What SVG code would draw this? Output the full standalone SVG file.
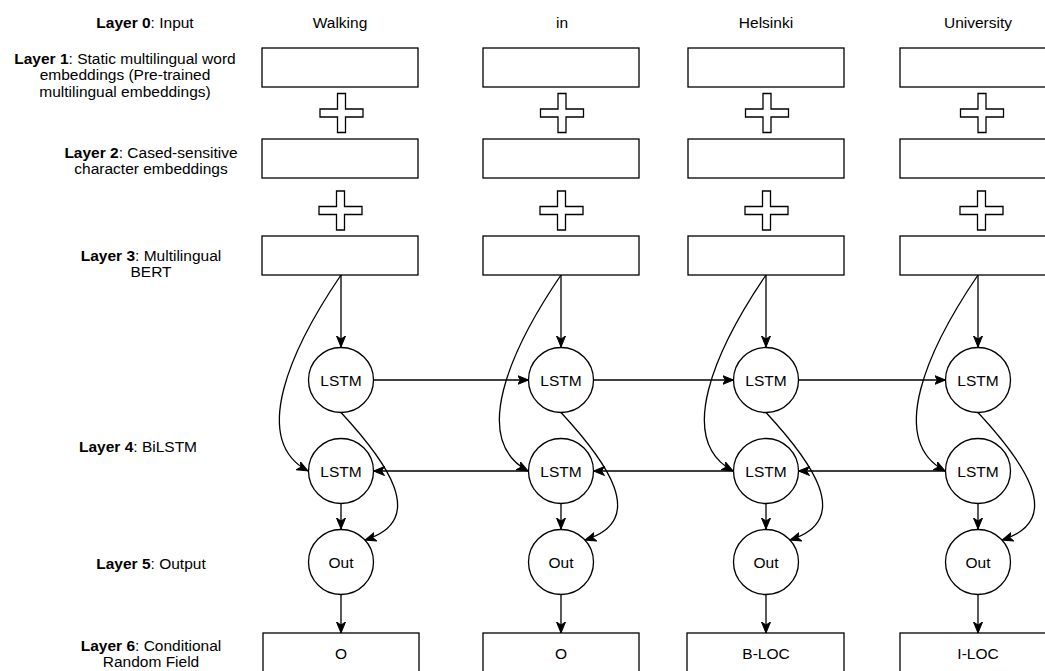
<svg xmlns="http://www.w3.org/2000/svg" width="1045" height="671" viewBox="0 0 1045 671">
<style>
text{font-family:"Liberation Sans",Arial,sans-serif;font-size:15.5px;fill:#000;}
.c{text-anchor:middle;}
.b{font-weight:bold;}
.box{fill:#fff;stroke:#000;stroke-width:1.3;}
.node{fill:#fff;stroke:#000;stroke-width:1.3;}
.edge{fill:none;stroke:#000;stroke-width:1.3;marker-end:url(#arr);}
</style>
<defs>
<marker id="arr" markerUnits="userSpaceOnUse" markerWidth="12" markerHeight="10" viewBox="0 0 12 10" refX="11" refY="5" orient="auto">
<path d="M0,0.5 L11,5 L0,9.5 L3,5 Z" fill="#000" stroke="#000" stroke-width="1"/>
</marker>
<path id="plus" d="M-4,-19.5 H4 V-4 H21.5 V4 H4 V19.5 H-4 V4 H-21.5 V-4 H-4 Z" fill="#fff" stroke="#000" stroke-width="1.3"/>
</defs>
<rect width="1045" height="671" fill="#fff"/>

<g id="layer-labels">
<text class="c" x="145" y="27.5"><tspan class="b">Layer 0</tspan>: Input</text>
<text class="c" x="125" y="63.5"><tspan class="b">Layer 1</tspan>: Static multilingual word</text>
<text class="c" x="125" y="80.2">embeddings (Pre-trained</text>
<text class="c" x="125" y="96.9">multilingual embeddings)</text>
<text class="c" x="151" y="157.5"><tspan class="b">Layer 2</tspan>: Cased-sensitive</text>
<text class="c" x="151" y="174.2">character embeddings</text>
<text class="c" x="151" y="260.5"><tspan class="b">Layer 3</tspan>: Multilingual</text>
<text class="c" x="151" y="277.2">BERT</text>
<text class="c" x="138" y="451.5"><tspan class="b">Layer 4</tspan>: BiLSTM</text>
<text class="c" x="151" y="568.5"><tspan class="b">Layer 5</tspan>: Output</text>
<text class="c" x="151" y="650.5"><tspan class="b">Layer 6</tspan>: Conditional</text>
<text class="c" x="151" y="667.2">Random Field</text>
</g>

<g id="connectors">
<path class="edge" d="M341,275 L341,347"/>
<path class="edge" d="M341,275 C290,350 250,440 308,471"/>
<path class="edge" d="M341,412.5 C385,460 430,520 365,540"/>
<path class="edge" d="M341,503.5 L341,529"/>
<path class="edge" d="M341,594.5 L341,633"/>
<path class="edge" d="M561,275 L561,347"/>
<path class="edge" d="M561,275 C510,350 470,440 528,471"/>
<path class="edge" d="M561,412.5 C605,460 650,520 585,540"/>
<path class="edge" d="M561,503.5 L561,529"/>
<path class="edge" d="M561,594.5 L561,633"/>
<path class="edge" d="M766,275 L766,347"/>
<path class="edge" d="M766,275 C715,350 675,440 733,471"/>
<path class="edge" d="M766,412.5 C810,460 855,520 790,540"/>
<path class="edge" d="M766,503.5 L766,529"/>
<path class="edge" d="M766,594.5 L766,633"/>
<path class="edge" d="M978,275 L978,347"/>
<path class="edge" d="M978,275 C927,350 887,440 945,471"/>
<path class="edge" d="M978,412.5 C1022,460 1067,520 1002,540"/>
<path class="edge" d="M978,503.5 L978,529"/>
<path class="edge" d="M978,594.5 L978,633"/>
<path class="edge" d="M373.5,380 L528.5,380"/>
<path class="edge" d="M593.5,380 L733.5,380"/>
<path class="edge" d="M798.5,380 L945.5,380"/>
<path class="edge" d="M528.5,471 L373.5,471"/>
<path class="edge" d="M733.5,471 L593.5,471"/>
<path class="edge" d="M945.5,471 L798.5,471"/>
</g>

<g id="words">
<text class="c" x="340" y="27.5">Walking</text>
<text class="c" x="562" y="27.5">in</text>
<text class="c" x="766" y="27.5">Helsinki</text>
<text class="c" x="978" y="27.5">University</text>
</g>

<g id="col1">
<rect class="box" x="262" y="48" width="156" height="39"/>
<use href="#plus" x="341.5" y="113"/>
<rect class="box" x="262" y="139" width="156" height="39"/>
<use href="#plus" x="340.5" y="210.5"/>
<rect class="box" x="262" y="236" width="156" height="39"/>
<g id="lstm-f-1"><circle class="node" cx="341" cy="380" r="32.5"/><text class="c" x="341" y="385.5">LSTM</text></g>
<g id="lstm-b-1"><circle class="node" cx="341" cy="471" r="32.5"/><text class="c" x="341" y="476.5">LSTM</text></g>
<g id="out-1"><circle class="node" cx="341" cy="562" r="32.5"/><text class="c" x="341" y="567.5">Out</text></g>
<g id="crf-1"><rect class="box" x="263" y="633" width="156" height="39"/><text class="c" x="341" y="658.5">O</text></g>
</g>

<g id="col2">
<rect class="box" x="483" y="48" width="156" height="39"/>
<use href="#plus" x="562" y="113"/>
<rect class="box" x="483" y="139" width="156" height="39"/>
<use href="#plus" x="561.5" y="210.5"/>
<rect class="box" x="483" y="236" width="156" height="39"/>
<g id="lstm-f-2"><circle class="node" cx="561" cy="380" r="32.5"/><text class="c" x="561" y="385.5">LSTM</text></g>
<g id="lstm-b-2"><circle class="node" cx="561" cy="471" r="32.5"/><text class="c" x="561" y="476.5">LSTM</text></g>
<g id="out-2"><circle class="node" cx="561" cy="562" r="32.5"/><text class="c" x="561" y="567.5">Out</text></g>
<g id="crf-2"><rect class="box" x="483" y="633" width="156" height="39"/><text class="c" x="561" y="658.5">O</text></g>
</g>

<g id="col3">
<rect class="box" x="688" y="48" width="156" height="39"/>
<use href="#plus" x="767" y="113"/>
<rect class="box" x="688" y="139" width="156" height="39"/>
<use href="#plus" x="766.5" y="210.5"/>
<rect class="box" x="688" y="236" width="156" height="39"/>
<g id="lstm-f-3"><circle class="node" cx="766" cy="380" r="32.5"/><text class="c" x="766" y="385.5">LSTM</text></g>
<g id="lstm-b-3"><circle class="node" cx="766" cy="471" r="32.5"/><text class="c" x="766" y="476.5">LSTM</text></g>
<g id="out-3"><circle class="node" cx="766" cy="562" r="32.5"/><text class="c" x="766" y="567.5">Out</text></g>
<g id="crf-3"><rect class="box" x="687" y="633" width="157" height="39"/><text class="c" x="766" y="658.5">B-LOC</text></g>
</g>

<g id="col4">
<rect class="box" x="900" y="48" width="156" height="39"/>
<use href="#plus" x="982" y="113"/>
<rect class="box" x="900" y="139" width="156" height="39"/>
<use href="#plus" x="981.5" y="210.5"/>
<rect class="box" x="900" y="236" width="156" height="39"/>
<g id="lstm-f-4"><circle class="node" cx="978" cy="380" r="32.5"/><text class="c" x="978" y="385.5">LSTM</text></g>
<g id="lstm-b-4"><circle class="node" cx="978" cy="471" r="32.5"/><text class="c" x="978" y="476.5">LSTM</text></g>
<g id="out-4"><circle class="node" cx="978" cy="562" r="32.5"/><text class="c" x="978" y="567.5">Out</text></g>
<g id="crf-4"><rect class="box" x="900" y="633" width="156" height="39"/><text class="c" x="978" y="658.5">I-LOC</text></g>
</g>
</svg>
